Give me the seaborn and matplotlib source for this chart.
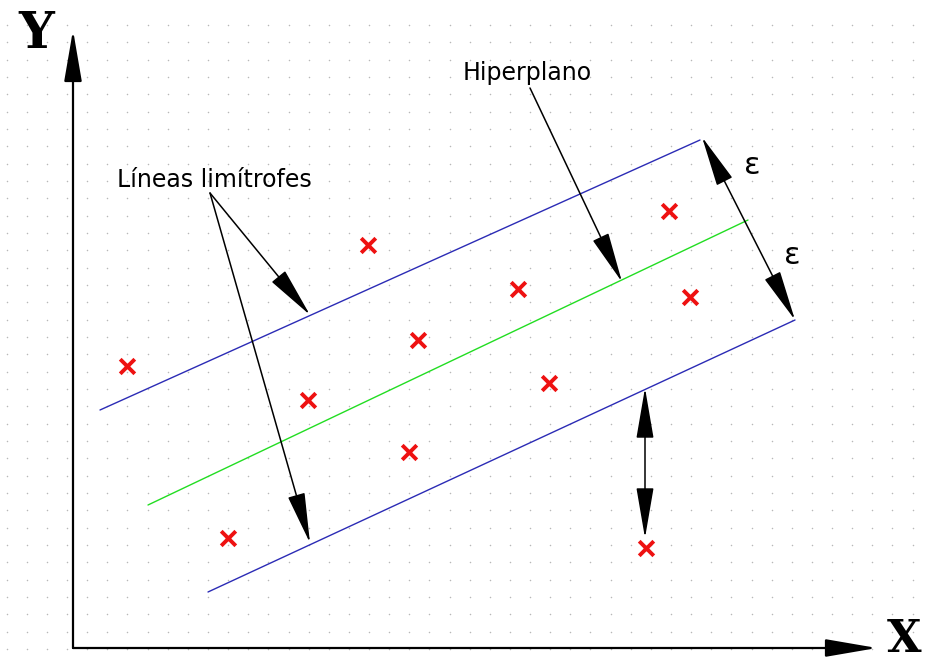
# Diagrama de regresion SVR: hiperplano y lineas limitrofes
import numpy as np
import pandas as pd
import matplotlib
matplotlib.use("Agg")
import matplotlib.pyplot as plt
import seaborn as sns
from matplotlib.patches import FancyArrowPatch

# Puntos (coordenadas en pixeles del dibujo, y hacia abajo)
punto_x = [127, 368, 418, 308, 518, 669, 690, 549, 409, 228, 646]
punto_y = [366, 245, 340, 400, 289, 211, 297, 383, 452, 538, 548]

# Extremos de las tres rectas
linea_nombre = ["superior", "superior", "hiperplano", "hiperplano", "inferior", "inferior"]
linea_x = [100, 700, 148, 748, 208, 795]
linea_y = [410, 140, 505, 220, 592, 320]

sns.set_style("white")
plt.rcParams["font.family"] = ["DejaVu Sans"]
plt.rcParams["text.color"] = "black"

fig = plt.figure(figsize=(9.29, 6.66), dpi=100)
ax = fig.add_axes([0, 0, 1, 1])
ax.set_xlim(0, 929)
ax.set_ylim(666, 0)
ax.axis("off")

# Fondo de puntos grises
gx, gy = np.meshgrid(np.arange(6.7, 929, 20.13), np.arange(25, 666, 17.33))
ax.scatter(gx.ravel(), gy.ravel(), s=1.2, color="#b8b8b8", linewidths=0, zorder=0)

# Rectas
df_lineas = pd.DataFrame({"linea": linea_nombre, "x": linea_x, "y": linea_y})
sns.lineplot(data=df_lineas, x="x", y="y", hue="linea", sort=False, estimator=None,
             palette={"superior": "#2b2bb5", "hiperplano": "#22dd22", "inferior": "#2b2bb5"},
             linewidth=1.0, legend=False, ax=ax, zorder=2)

# Puntos rojos
df_puntos = pd.DataFrame({"x": punto_x, "y": punto_y})
sns.scatterplot(data=df_puntos, x="x", y="y", marker="x", s=110, color="#ee1111",
                linewidth=2.8, ax=ax, zorder=3)


def flecha(p0, p1, estilo="-|>", lw=1.1):
    a = FancyArrowPatch(p0, p1, arrowstyle=estilo + ",head_length=3.2,head_width=0.55",
                        mutation_scale=10, color="black", lw=lw,
                        shrinkA=0, shrinkB=0, zorder=4)
    ax.add_patch(a)


# Ejes
flecha((73, 648), (73, 30), lw=1.6)
flecha((73, 648), (877, 648), lw=1.6)
ax.text(54, 34, "Y", fontsize=36, fontweight="bold", family="DejaVu Serif",
        ha="right", va="center")
ax.text(887, 640, "X", fontsize=32, fontweight="bold", family="DejaVu Serif",
        ha="left", va="center")

# Etiquetas con flechas
ax.text(117, 180, "Líneas limítrofes", fontsize=17, ha="left", va="center")
flecha((210, 193), (310, 315))
flecha((210, 193), (310, 543))
ax.text(463, 73, "Hiperplano", fontsize=17, ha="left", va="center")
flecha((530, 88), (622, 282))

# Margen epsilon
flecha((702, 137), (795, 320), estilo="<|-|>")
ax.text(752, 166, "ε", fontsize=22, ha="center", va="center")
ax.text(792, 255, "ε", fontsize=22, ha="center", va="center")

# Distancia de un punto fuera del margen
flecha((645, 388), (645, 538), estilo="<|-|>")

fig.savefig("out.png", dpi=100)
